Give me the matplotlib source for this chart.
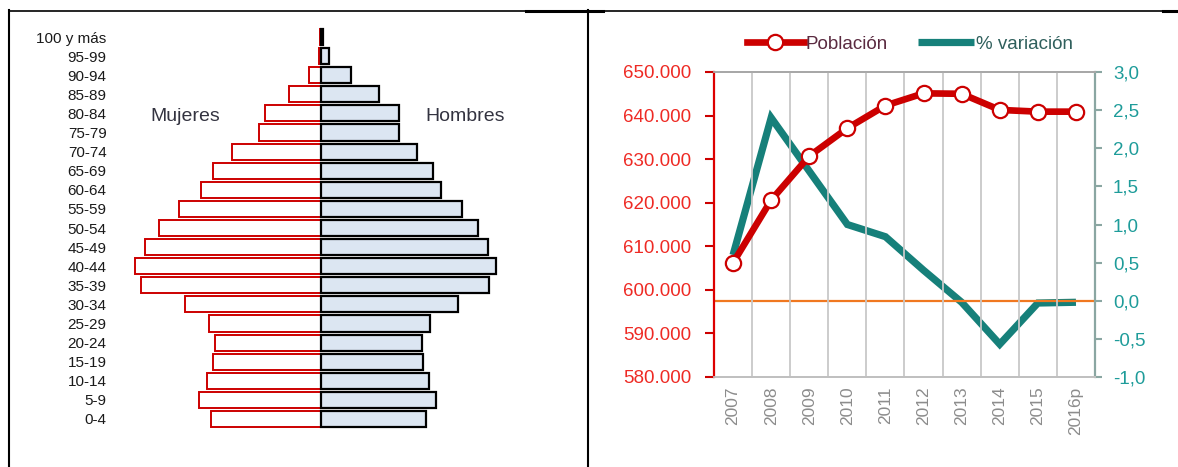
import numpy as np
import matplotlib
matplotlib.use("Agg")
import matplotlib.pyplot as plt
from matplotlib.lines import Line2D

plt.rcParams['font.family'] = ['Liberation Sans', 'DejaVu Sans']

# ---- piramide (valores en % aprox.) ----
edades = ["0-4", "5-9", "10-14", "15-19", "20-24", "25-29", "30-34", "35-39",
          "40-44", "45-49", "50-54", "55-59", "60-64", "65-69", "70-74",
          "75-79", "80-84", "85-89", "90-94", "95-99", "100 y más"]
mujeres = [2.50, 2.77, 2.59, 2.45, 2.41, 2.55, 3.09, 4.09, 4.23, 4.00, 3.68,
           3.23, 2.73, 2.45, 2.02, 1.41, 1.27, 0.73, 0.27, 0.05, 0.03]
hombres = [2.39, 2.61, 2.45, 2.32, 2.30, 2.48, 3.11, 3.82, 3.98, 3.80, 3.57,
           3.20, 2.73, 2.55, 2.18, 1.77, 1.77, 1.32, 0.68, 0.18, 0.05]

# ---- evolucion ----
anios = ["2007", "2008", "2009", "2010", "2011", "2012", "2013", "2014", "2015", "2016p"]
poblacion = [606200, 620600, 630700, 637100, 642300, 645100, 645000, 641300, 640900, 640900]
variacion = [0.6, 2.4, 1.7, 1.0, 0.84, 0.4, -0.02, -0.57, -0.03, -0.02]

W, H = 1178, 467
fig = plt.figure(figsize=(W / 100, H / 100), dpi=100)

def box(x0, y0, x1, y1):
    # pixel box -> figure fraction
    return [x0 / W, 1 - y1 / H, (x1 - x0) / W, (y1 - y0) / H]

# ---------------- pyramid ----------------
ax = fig.add_axes(box(115, 27.45, 520, 428.55))
y = np.arange(len(edades))
ax.barh(y, -np.array(mujeres), height=0.84, color='white', edgecolor='#CC0000', linewidth=1.4)
ax.barh(y, hombres, height=0.84, color='#DCE6F2', edgecolor='black', linewidth=1.6)
ax.set_xlim(-4.682, 4.523)
ax.set_ylim(-0.5, len(edades) - 0.5)
ax.set_yticks(y)
ax.set_yticklabels(edades, fontsize=11, color='#1a1a1a')
ax.tick_params(axis='y', length=0, pad=6)
ax.set_xticks([])
for s in ax.spines.values():
    s.set_visible(False)
ax.text(-3.09, 15.86, "Mujeres", fontsize=14, color='#333340', ha='center', va='center')
ax.text(3.27, 15.86, "Hombres", fontsize=14, color='#333340', ha='center', va='center')

# ---------------- line chart ----------------
ax1 = fig.add_axes(box(714, 72, 1095, 377))
ax2 = ax1.twinx()
x = np.arange(len(anios))

ax2.plot(x, variacion, color='#16807A', linewidth=5.2, solid_capstyle='butt',
         solid_joinstyle='miter', label='% variación')
ax2.axhline(0, color='#F07820', linewidth=1.6)
ax1.plot(x, poblacion, color='#CC0000', linewidth=4.8, marker='o', markersize=11,
         markerfacecolor='white', markeredgecolor='#CC0000', markeredgewidth=1.6,
         label='Población')
ax1.set_zorder(ax2.get_zorder() + 1)
ax1.patch.set_visible(False)

ax1.set_xlim(-0.5, len(anios) - 0.5)
ax1.set_ylim(580000, 650000)
ax1.set_yticks(np.arange(580000, 650001, 10000))
ax1.set_yticklabels(["{:,}".format(v).replace(",", ".") for v in range(580000, 650001, 10000)])
ax1.tick_params(axis='y', colors='#CC0000', labelcolor='#EE2A24', labelsize=13.5,
                length=6.5, width=1.5, pad=10)
ax1.set_xticks(x)
ax1.set_xticklabels(anios, rotation=90, fontsize=12.5, color='#8C8C8C')
ax1.tick_params(axis='x', length=0, pad=7)
ax1.set_xticks(np.arange(0.5, len(anios) - 1, 1), minor=True)
ax1.tick_params(axis='x', which='minor', length=0)
ax1.grid(True, which='minor', axis='x', color='#C8C8C8', linewidth=1.3)

ax2.set_ylim(-1, 3)
ticks2 = np.arange(-1, 3.01, 0.5)
ax2.set_yticks(ticks2)
ax2.set_yticklabels(["{:.1f}".format(t).replace(".", ",") for t in ticks2])
ax2.tick_params(axis='y', colors='#8AA6A2', labelcolor='#1E9C9A', labelsize=13.5,
                length=5, width=1.5, pad=8)

ax1.spines['left'].set_color('#DD0000')
ax1.spines['left'].set_linewidth(1.6)
ax1.spines['right'].set_visible(False)
for a in (ax1, ax2):
    a.spines['top'].set_color('#A8A8A8')
    a.spines['bottom'].set_color('#C0C0C0')
    a.spines['top'].set_linewidth(1.3)
    a.spines['bottom'].set_linewidth(1.3)
ax2.spines['right'].set_color('#8AA6A2')
ax2.spines['right'].set_linewidth(1.6)
ax2.spines['left'].set_visible(False)

h1, l1 = ax1.get_legend_handles_labels()
h2, l2 = ax2.get_legend_handles_labels()
leg = fig.legend(h1 + h2, l1 + l2, loc='center', bbox_to_anchor=(910 / W, 1 - 44 / H),
                 ncol=2, frameon=False, fontsize=13.5, handlelength=3.0,
                 columnspacing=1.6, handletextpad=0.1)
leg.get_texts()[0].set_color('#5a2a40')
leg.get_texts()[1].set_color('#2f5f5c')

# ---------------- frame lines ----------------
def hline(x0, x1, yy, lw):
    fig.add_artist(Line2D([x0 / W, x1 / W], [1 - yy / H, 1 - yy / H], color='black', linewidth=lw))

def vline(xx, y0, y1, lw):
    fig.add_artist(Line2D([xx / W, xx / W], [1 - y0 / H, 1 - y1 / H], color='black', linewidth=lw))

hline(9, 1178, 10.5, 1.2)
hline(526, 603, 11, 2.2)
hline(1163, 1178, 11, 2.2)
vline(9, 10, 467, 1.5)
vline(588, 10, 467, 1.5)

fig.savefig("out.png", dpi=100)
